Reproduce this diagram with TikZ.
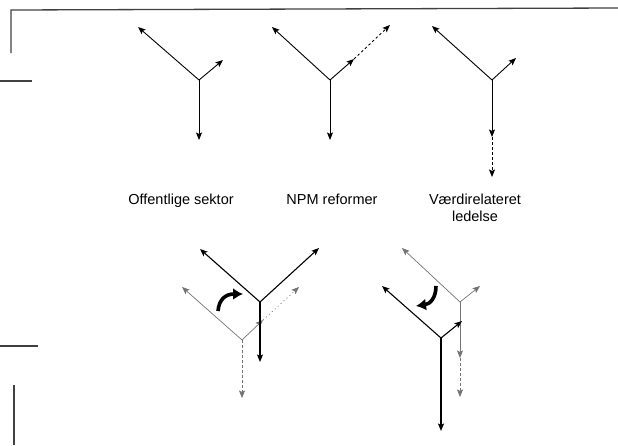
\documentclass[tikz,border=0pt]{standalone}
\usepackage{fontspec}
\setmainfont{Liberation Sans}
\usetikzlibrary{arrows.meta}
\begin{document}
\begin{tikzpicture}[x=1pt,y=-1pt,
  arr/.style={line width=0.9pt,-{Stealth[length=7.5pt,width=6pt,inset=1.5pt]}},
  garr/.style={arr,draw=black!55,line width=0.7pt},
  dsh/.style={dash pattern=on 2.5pt off 2.5pt},
  dtt/.style={dash pattern=on 1pt off 3pt},
  frame/.style={line width=1.3pt,draw=black!75},
  turnarrow/.style={line width=3.6pt,-{Latex[length=10pt,width=12pt]}},
  lab/.style={font=\fontsize{14.5}{17}\selectfont,align=center,inner sep=0pt}]
\useasboundingbox (0,0) rectangle (618,445);
% frame fragments
\coordinate (f1) at (11,53); \coordinate (f2) at (11,10); \coordinate (f3) at (618,8);
\draw[frame] (f1) -- (f2) -- (f3);
\coordinate (f4) at (0,81); \coordinate (f5) at (32,81);
\draw[frame] (f4) -- (f5);
\coordinate (f6) at (0,346); \coordinate (f7) at (38,346);
\draw[frame] (f6) -- (f7);
\coordinate (f8) at (14,385); \coordinate (f9) at (14,445);
\draw[frame] (f8) -- (f9);
% Y1
\coordinate (c1) at (199,80);
\coordinate (l1) at (138,27); \coordinate (r1) at (223,60); \coordinate (d1) at (199,140);
\draw[arr] (c1) -- (l1); \draw[arr] (c1) -- (r1); \draw[arr] (c1) -- (d1);
% Y2
\coordinate (c2) at (330,80);
\coordinate (l2) at (272,27); \coordinate (r2) at (354,59); \coordinate (r2b) at (390,25); \coordinate (d2) at (330,140);
\draw[arr] (c2) -- (l2); \draw[arr] (c2) -- (r2); \draw[arr,dsh] (r2) -- (r2b); \draw[arr] (c2) -- (d2);
% Y3
\coordinate (c3) at (492,80);
\coordinate (l3) at (432,26); \coordinate (r3) at (516,58); \coordinate (d3) at (492,137); \coordinate (d3b) at (492,177);
\draw[arr] (c3) -- (l3); \draw[arr] (c3) -- (r3); \draw[arr] (c3) -- (d3); \draw[arr,dsh] (d3) -- (d3b);
% labels
\node[lab,anchor=base] (t1) at (181,204) {Offentlige sektor};
\node[lab,anchor=base] (t2) at (332,204) {NPM reformer};
\node[lab,anchor=base] (t3) at (475,221) {Værdirelateret\\ledelse};
% bottom left: gray Y
\coordinate (gc4) at (242,340);
\coordinate (gl4) at (182,287); \coordinate (gr4) at (263,320); \coordinate (gr4b) at (299,287); \coordinate (gd4) at (242,398);
\draw[garr] (gc4) -- (gl4); \draw[garr] (gc4) -- (gr4); \draw[garr,dtt] (gr4) -- (gr4b); \draw[garr,dsh] (gc4) -- (gd4);
% bottom left: black Y
\coordinate (c4) at (260,302);
\coordinate (l4) at (200,249); \coordinate (r4) at (319,248); \coordinate (d4) at (260,362);
\draw[arr,line width=1.1pt] (c4) -- (l4); \draw[arr,line width=1.1pt] (c4) -- (r4); \draw[arr,line width=1.1pt] (c4) -- (d4);
% curved arrow 1
\coordinate (a1s) at (218,311); \coordinate (a1e) at (243,294);
\draw[turnarrow] (a1s) .. controls (219,299) and (226,294) .. (a1e);
% bottom right: gray Y
\coordinate (gc5) at (460,302);
\coordinate (gl5) at (402,248); \coordinate (gr5) at (480,286); \coordinate (gd5) at (460,358); \coordinate (gd5b) at (460,397);
\draw[garr] (gc5) -- (gl5); \draw[garr] (gc5) -- (gr5); \draw[garr,line width=1pt] (gc5) -- (gd5); \draw[garr,dsh] (gd5) -- (gd5b);
% bottom right: black Y
\coordinate (c5) at (441,338);
\coordinate (l5) at (382,286); \coordinate (r5) at (462,321); \coordinate (d5) at (441,431);
\draw[arr,line width=1.1pt] (c5) -- (l5); \draw[arr,line width=1.1pt] (c5) -- (r5); \draw[arr,line width=1.8pt] (c5) -- (d5);
% curved arrow 2
\coordinate (a2s) at (436,286); \coordinate (a2e) at (416,306);
\draw[turnarrow] (a2s) .. controls (436,298) and (430,304) .. (a2e);
\end{tikzpicture}
\end{document}
